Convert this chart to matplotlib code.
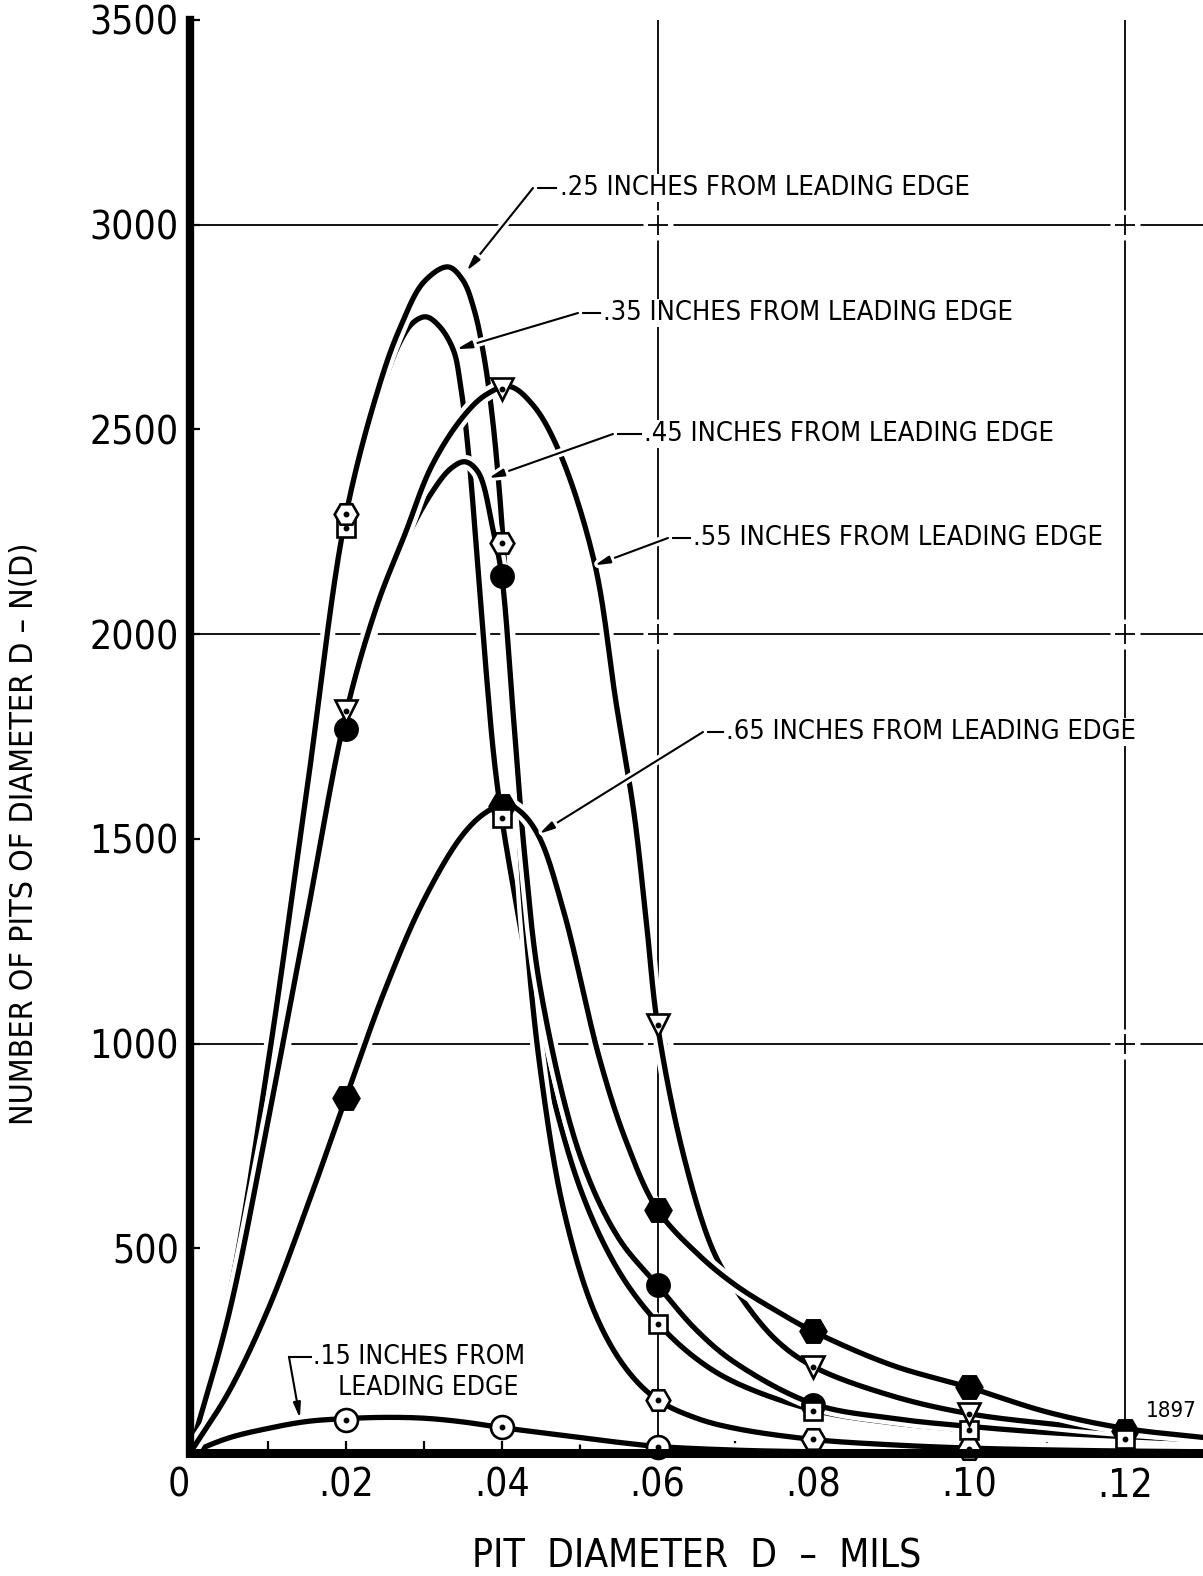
import numpy as np
import matplotlib
matplotlib.use("Agg")
import matplotlib.pyplot as plt
import matplotlib.patheffects as pe
from matplotlib.transforms import Affine2D

W, H = 1203, 1576
plt.rcParams['font.family'] = ['DejaVu Sans']
plt.rcParams['font.stretch'] = 'condensed'

# ---------------- data ----------------
# distance from leading edge (inches) for each distribution
stations = ['.15', '.25', '.35', '.45', '.55', '.65']

# measured pit counts at the sampled diameters (mils)
meas_x_15 = [0.02, 0.04, 0.06]
meas_y_15 = [81, 64, 14]
meas_x_25 = [0.02, 0.04, 0.06, 0.08, 0.10]
meas_y_25 = [2293, 2222, 130, 34, 10]
meas_x_35 = [0.02, 0.04, 0.06, 0.08, 0.10, 0.12]
meas_y_35 = [2259, 1552, 314, 103, 56, 34]
meas_x_45 = [0.02, 0.04, 0.06, 0.08]
meas_y_45 = [1768, 2143, 410, 118]
meas_x_55 = [0.02, 0.04, 0.06, 0.08, 0.10]
meas_y_55 = [1812, 2598, 1046, 211, 96]
meas_x_65 = [0.02, 0.04, 0.06, 0.08, 0.10, 0.12]
meas_y_65 = [867, 1581, 594, 297, 160, 54]

# faired distribution curves
fit_x_15 = [0, .005, .01, .015, .02, .025, .03, .035, .04, .045, .05, .055, .06, .07, .08, .10, .13]
fit_y_15 = [0, 37, 60, 77, 84, 87, 85, 76, 62, 50, 38, 26, 16, 7, 3, 1, 0]
fit_x_25 = [0, .005, .01, .015, .02, .0245, .027, .030, .0331, .0350, .0365, .0378, .0388,
            .0397, .0405, .0415, .043, .045, .048, .052, .056, .06, .065, .07, .08, .09,
            .10, .115, .13]
fit_y_25 = [0, 380, 950, 1620, 2290, 2620, 2750, 2860, 2897, 2865, 2790, 2670, 2530,
            2350, 2130, 1760, 1300, 930, 590, 340, 205, 130, 85, 60, 33, 20,
            12, 6, 3]
fit_x_35 = [0, .005, .01, .015, .02, .0245, .027, .0287, .0303, .032, .0338, .0347, .0357,
            .037, .038, .039, .040, .0415, .043, .045, .05, .055, .06, .065, .07, .08,
            .09, .10, .11, .12, .13]
fit_y_35 = [0, 370, 940, 1610, 2265, 2590, 2715, 2762, 2775, 2752, 2694, 2610, 2450,
            2150, 1910, 1700, 1552, 1380, 1220, 1000, 650, 445, 318, 230, 172, 105,
            74, 56, 43, 33, 26]
fit_x_45 = [0, .005, .01, .015, .02, .024, .0276, .031, .0335, .0353, .037, .0389, .040,
            .0415, .043, .045, .05, .055, .06, .065, .07, .08, .09, .10, .11, .12, .13]
fit_y_45 = [0, 330, 790, 1290, 1770, 2050, 2225, 2345, 2405, 2421, 2395, 2254, 2143,
            1800, 1450, 1130, 730, 525, 410, 300, 220, 120, 85, 65, 50, 40, 32]
fit_x_55 = [0, .005, .01, .015, .02, .024, .0276, .031, .035, .038, .041, .044, .0474,
            .0519, .0547, .057, .0586, .06, .0633, .0671, .07, .075, .08, .09, .10, .11,
            .12, .13]
fit_y_55 = [0, 340, 810, 1310, 1805, 2070, 2245, 2410, 2530, 2585, 2605, 2560, 2445,
            2175, 1830, 1560, 1290, 1046, 730, 496, 400, 280, 211, 140, 96, 72,
            55, 42]
fit_x_65 = [0, .005, .01, .015, .02, .025, .03, .035, .038, .0405, .0425, .0448, .048,
            .0526, .056, .06, .0655, .07, .075, .08, .09, .10, .11, .12, .13]
fit_y_65 = [0, 150, 350, 600, 867, 1130, 1350, 1510, 1565, 1585, 1565, 1505, 1320,
            960, 760, 594, 480, 410, 350, 297, 215, 160, 100, 60, 38]

y_ticks = [500, 1000, 1500, 2000, 2500, 3000, 3500]
x_major = [0.02, 0.04, 0.06, 0.08, 0.10, 0.12]
x_major_labels = ['.02', '.04', '.06', '.08', '.10', '.12']
x_minor = [0.01, 0.03, 0.05, 0.07, 0.09, 0.11]
grid_y = [1000, 2000, 3000]
grid_x = [0.06, 0.12]

XMAX, YMAX = 0.13, 3500

# ---------------- helpers ----------------
AX_W_PX, AX_H_PX = 1013, 1433


def faired(xs, ys, n=24):
    """Centripetal Catmull-Rom curve through the given points."""
    sx, sy = 1.0 / XMAX, (AX_H_PX / AX_W_PX) / YMAX
    P = np.column_stack([np.asarray(xs, float) * sx, np.asarray(ys, float) * sy])
    P = np.vstack([2 * P[0] - P[1], P, 2 * P[-1] - P[-2]])
    out = []
    for i in range(1, len(P) - 2):
        p0, p1, p2, p3 = P[i - 1], P[i], P[i + 1], P[i + 2]
        d01 = max(np.hypot(*(p1 - p0)), 1e-9) ** 0.5
        d12 = max(np.hypot(*(p2 - p1)), 1e-9) ** 0.5
        d23 = max(np.hypot(*(p3 - p2)), 1e-9) ** 0.5
        t0, t1 = 0.0, d01
        t2 = t1 + d12
        t3 = t2 + d23
        t = np.linspace(t1, t2, n)[:, None]
        A1 = (t1 - t) / (t1 - t0) * p0 + (t - t0) / (t1 - t0) * p1
        A2 = (t2 - t) / (t2 - t1) * p1 + (t - t1) / (t2 - t1) * p2
        A3 = (t3 - t) / (t3 - t2) * p2 + (t - t2) / (t3 - t2) * p3
        B1 = (t2 - t) / (t2 - t0) * A1 + (t - t0) / (t2 - t0) * A2
        B2 = (t3 - t) / (t3 - t1) * A2 + (t - t1) / (t3 - t1) * A3
        C = (t2 - t) / (t2 - t1) * B1 + (t - t1) / (t2 - t1) * B2
        out.append(C if i == 1 else C[1:])
    C = np.vstack(out)
    return C[:, 0] / sx, C[:, 1] / sy


# ---------------- figure ----------------
fig = plt.figure(figsize=(W / 100, H / 100), dpi=100)
ax = fig.add_axes([190 / W, 1 - 1453 / H, AX_W_PX / W, AX_H_PX / H])
ax.set_xlim(0, XMAX)
ax.set_ylim(0, YMAX)
ax.patch.set_alpha(0)

# pixel-space transform for lettering placement (origin top-left)
PIX = Affine2D().scale(1, -1).translate(0, H)

for s in ('top', 'right'):
    ax.spines[s].set_visible(False)
ax.spines['left'].set_linewidth(6.0)
ax.spines['bottom'].set_linewidth(6.5)
ax.spines['left'].set_zorder(20)
ax.spines['bottom'].set_zorder(20)

TICK = 28
ax.set_xticks(x_major, x_major_labels)
ax.set_xticks(x_minor, minor=True)
ax.set_yticks(y_ticks, [str(v) for v in y_ticks])
ax.tick_params(axis='x', which='both', direction='in', length=9, width=1.6,
               pad=10, labelsize=TICK)
ax.tick_params(axis='y', direction='in', length=7, width=1.6, pad=8, labelsize=TICK)
ax.annotate('0', xy=(0, 0), xycoords='data', xytext=(-8, -10),
            textcoords='offset points', ha='center', va='top', fontsize=TICK)

# grid: solid rules broken by small crosses at their intersections
for gy in grid_y:
    ax.plot([0, XMAX], [gy, gy], color='k', lw=1.3, zorder=1, solid_capstyle='butt')
for gx in grid_x:
    ax.plot([gx, gx], [0, YMAX], color='k', lw=1.3, zorder=1, solid_capstyle='butt')
gxx, gyy = np.meshgrid(grid_x, grid_y)
ax.plot(gxx.ravel(), gyy.ravel(), ls='none', marker='s', ms=22, mfc='w', mec='none', zorder=1.5)
ax.plot(gxx.ravel(), gyy.ravel(), ls='none', marker='+', ms=15, mew=1.3, color='k', zorder=1.6)

halo = lambda w: [pe.Stroke(linewidth=w, foreground='white'), pe.Normal()]

curves = {
    '.15': (fit_x_15, fit_y_15), '.25': (fit_x_25, fit_y_25), '.35': (fit_x_35, fit_y_35),
    '.45': (fit_x_45, fit_y_45), '.55': (fit_x_55, fit_y_55), '.65': (fit_x_65, fit_y_65),
}
points = {
    '.15': (meas_x_15, meas_y_15), '.25': (meas_x_25, meas_y_25), '.35': (meas_x_35, meas_y_35),
    '.45': (meas_x_45, meas_y_45), '.55': (meas_x_55, meas_y_55), '.65': (meas_x_65, meas_y_65),
}
# symbol, size, filled, centre dot
symbols = {
    '.15': ('o', 16.5, False, True),
    '.25': ('H', 17, False, True),
    '.35': ('s', 13.5, False, True),
    '.45': ('o', 16, True, False),
    '.55': ('v', 16, False, True),
    '.65': ('H', 18.5, True, False),
}

# later curves are drawn over earlier ones, which break where they cross
draw_order = ['.15', '.35', '.25', '.45', '.55', '.65']
for k, st in enumerate(draw_order):
    cx, cy = faired(*curves[st])
    ax.plot(cx, cy, color='k', lw=3.8, zorder=3 + 0.1 * k, solid_capstyle='round',
            path_effects=halo(10))

marker_order = ['.15', '.45', '.65', '.35', '.25', '.55']
for k, st in enumerate(marker_order):
    mx, my = points[st]
    m, ms, filled, dot = symbols[st]
    ax.plot(mx, my, ls='none', marker=m, ms=ms, mfc='k' if filled else 'w', mec='k',
            mew=1.9, zorder=10 + k, clip_on=False)
    if dot:
        ax.plot(mx, my, ls='none', marker='o', ms=3.2, color='k', zorder=10.05 + k,
                clip_on=False)

LBL = 19.5
# station labels with leaders: (text, text left/centre px, stub px, arrow tip data)
labels = [
    ('.25 INCHES FROM LEADING EDGE', (560, 188), (556, 533, 188), (0.0355, 2887)),
    ('.35 INCHES FROM LEADING EDGE', (603, 313), (600, 578, 313), (0.0342, 2696)),
    ('.45 INCHES FROM LEADING EDGE', (644, 434), (641, 613, 434), (0.0383, 2381)),
    ('.55 INCHES FROM LEADING EDGE', (693, 538), (690, 668, 538), (0.0519, 2168)),
    ('.65 INCHES FROM LEADING EDGE', (726, 732), (723, 703, 732), (0.0448, 1512)),
]
for text, (tx, ty), (sx0, sx1, sy), tip in labels:
    ax.text(tx, ty, text, transform=PIX, ha='left', va='center', fontsize=LBL,
            zorder=8, bbox=dict(facecolor='w', edgecolor='none', pad=1))
    bx, by = ax.transData.inverted().transform(PIX.transform((sx1, sy)))
    ax.plot([sx0, sx1], [sy, sy], transform=PIX, color='k', lw=1.5, zorder=6)
    ax.annotate('', xy=tip, xycoords='data', xytext=(bx, by), textcoords='data',
                arrowprops=dict(arrowstyle='-|>,head_length=0.9,head_width=0.22',
                                lw=1.5, color='k', shrinkA=0, shrinkB=0,
                                path_effects=halo(6)),
                zorder=6)

# the .15 label sits low, under the curves
ax.text(419, 1357, '.15 INCHES FROM', transform=PIX, ha='center', va='center', fontsize=19,
        zorder=8, bbox=dict(facecolor='w', edgecolor='none', pad=1))
ax.text(428, 1388, 'LEADING EDGE', transform=PIX, ha='center', va='center', fontsize=19,
        zorder=8, bbox=dict(facecolor='w', edgecolor='none', pad=1))
ax.plot([313, 289], [1357, 1357], transform=PIX, color='k', lw=1.5, zorder=6)
bx, by = ax.transData.inverted().transform(PIX.transform((289, 1357)))
ax.annotate('', xy=(0.0141, 85), xycoords='data', xytext=(bx, by), textcoords='data',
            arrowprops=dict(arrowstyle='-|>,head_length=0.9,head_width=0.22', lw=1.5,
                            color='k', shrinkA=0, shrinkB=0), zorder=6)

ax.text(1146, 1411, '1897', transform=PIX, ha='left', va='center', fontsize=16, zorder=8)

fig.text(697 / W, 1 - 1557 / H, 'PIT  DIAMETER  D  –  MILS', ha='center', va='center',
         fontsize=28)
fig.text(24 / W, 1 - 834 / H, 'NUMBER OF PITS OF DIAMETER D – N(D)', ha='center',
         va='center', rotation=90, fontsize=23)

fig.savefig('out.png', dpi=100, facecolor='white')
